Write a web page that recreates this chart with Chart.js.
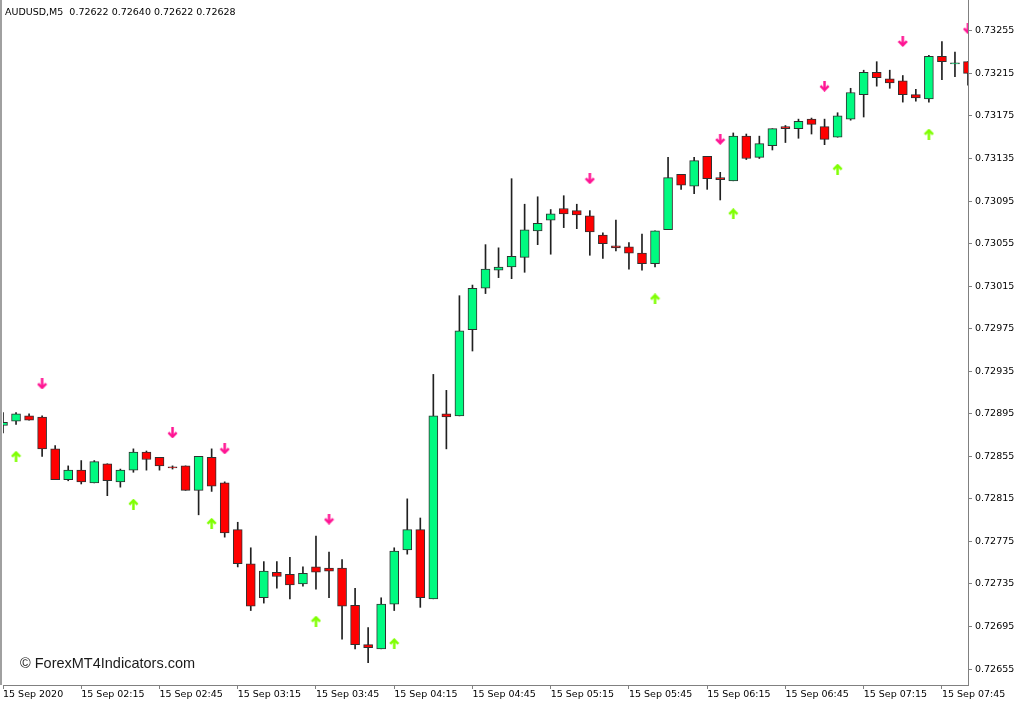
<!DOCTYPE html>
<html><head><meta charset="utf-8">
<script src="https://cdn.jsdelivr.net/npm/chart.js@4.4.1/dist/chart.umd.min.js"></script>
<style>
html,body{margin:0;padding:0;background:#fff;}
#wrap{position:relative;width:1024px;height:705px;overflow:hidden;background:#fff;}
canvas{position:absolute;left:0;top:0;}
#hdr{position:absolute;left:5px;top:7px;font:9.5px/9.5px "DejaVu Sans",sans-serif;color:#000;white-space:pre;}
#copy{position:absolute;left:20px;top:656px;font:14.5px/14.5px "Liberation Sans",Arial,sans-serif;color:#1a1a1a;white-space:pre;}
</style></head><body>
<div id="wrap"><canvas id="c" width="1024" height="705"></canvas>
<div id="hdr">AUDUSD,M5  0.72622 0.72640 0.72622 0.72628</div>
<div id="copy">© ForexMT4Indicators.com</div></div>
<script>
const categories = ["01:45","01:50","01:55",
 "02:00","02:05","02:10","02:15","02:20","02:25","02:30","02:35","02:40","02:45","02:50","02:55",
 "03:00","03:05","03:10","03:15","03:20","03:25","03:30","03:35","03:40","03:45","03:50","03:55",
 "04:00","04:05","04:10","04:15","04:20","04:25","04:30","04:35","04:40","04:45","04:50","04:55",
 "05:00","05:05","05:10","05:15","05:20","05:25","05:30","05:35","05:40","05:45","05:50","05:55",
 "06:00","06:05","06:10","06:15","06:20","06:25","06:30","06:35","06:40","06:45","06:50","06:55",
 "07:00","07:05","07:10","07:15","07:20","07:25","07:30","07:35","07:40","07:45","07:50","07:55"];

const tickTimes = ["01:45","02:15","02:45","03:15","03:45","04:15","04:45","05:15","05:45","06:15","06:45","07:15","07:45"];
const tickLabels = ["15 Sep 2020","15 Sep 02:15","15 Sep 02:45","15 Sep 03:15","15 Sep 03:45","15 Sep 04:15","15 Sep 04:45","15 Sep 05:15","15 Sep 05:45","15 Sep 06:15","15 Sep 06:45","15 Sep 07:15","15 Sep 07:45"];
const priceTicks = [0.72655,0.72695,0.72735,0.72775,0.72815,0.72855,0.72895,0.72935,0.72975,0.73015,0.73055,0.73095,0.73135,0.73175,0.73215,0.73255];

const openP = [0.72884,0.72888,0.72893,0.72892,0.72862,0.72833,0.72842,0.72830,0.72848,0.72831,
 0.72842,0.72859,0.72854,0.72845,0.72846,0.72823,0.72854,0.72830,0.72786,0.72754,
 0.72722,0.72746,0.72744,0.72735,0.72751,0.72750,0.72750,0.72715,0.72678,0.72674,
 0.72716,0.72767,0.72786,0.72721,0.72895,0.72893,0.72974,0.73013,0.73030,0.73033,
 0.73042,0.73067,0.73077,0.73088,0.73086,0.73081,0.73063,0.73053,0.73052,0.73046,
 0.73036,0.73068,0.73120,0.73109,0.73137,0.73117,0.73114,0.73156,0.73136,0.73147,
 0.73165,0.73163,0.73172,0.73165,0.73155,0.73172,0.73195,0.73216,0.73210,0.73208,
 0.73195,0.73191,0.73231,0.73224,0.73226];
const highP = [0.72896,0.72896,0.72895,0.72893,0.72865,0.72846,0.72851,0.72851,0.72848,0.72843,
 0.72862,0.72860,0.72854,0.72846,0.72846,0.72855,0.72862,0.72831,0.72793,0.72769,
 0.72756,0.72756,0.72760,0.72751,0.72780,0.72765,0.72758,0.72731,0.72694,0.72722,
 0.72769,0.72815,0.72797,0.72932,0.72917,0.73006,0.73016,0.73054,0.73051,0.73116,
 0.73092,0.73099,0.73087,0.73100,0.73092,0.73086,0.73065,0.73077,0.73056,0.73064,
 0.73067,0.73136,0.73120,0.73136,0.73137,0.73122,0.73159,0.73158,0.73156,0.73163,
 0.73166,0.73172,0.73173,0.73172,0.73178,0.73201,0.73218,0.73226,0.73218,0.73213,
 0.73200,0.73232,0.73245,0.73235,0.73226];
const lowP = [0.72877,0.72885,0.72889,0.72855,0.72833,0.72832,0.72829,0.72830,0.72818,0.72826,
 0.72840,0.72842,0.72842,0.72843,0.72823,0.72800,0.72822,0.72779,0.72751,0.72710,
 0.72717,0.72731,0.72721,0.72733,0.72730,0.72722,0.72683,0.72674,0.72661,0.72674,
 0.72710,0.72763,0.72713,0.72721,0.72862,0.72893,0.72954,0.73008,0.73023,0.73022,
 0.73028,0.73054,0.73045,0.73070,0.73069,0.73044,0.73041,0.73048,0.73031,0.73030,
 0.73033,0.73068,0.73106,0.73102,0.73106,0.73096,0.73114,0.73134,0.73135,0.73143,
 0.73150,0.73154,0.73158,0.73148,0.73155,0.73171,0.73174,0.73203,0.73201,0.73188,
 0.73189,0.73188,0.73209,0.73212,0.73204];
const closeP = [0.72887,0.72895,0.72889,0.72862,0.72833,0.72842,0.72831,0.72850,0.72832,0.72842,
 0.72859,0.72852,0.72846,0.72844,0.72823,0.72855,0.72827,0.72783,0.72754,0.72714,
 0.72747,0.72742,0.72734,0.72745,0.72746,0.72747,0.72714,0.72678,0.72675,0.72716,
 0.72766,0.72786,0.72722,0.72893,0.72892,0.72973,0.73013,0.73031,0.73033,0.73043,
 0.73068,0.73074,0.73083,0.73083,0.73082,0.73066,0.73055,0.73051,0.73046,0.73036,
 0.73067,0.73117,0.73110,0.73133,0.73116,0.73115,0.73156,0.73135,0.73149,0.73163,
 0.73163,0.73170,0.73167,0.73153,0.73175,0.73197,0.73216,0.73211,0.73206,0.73195,
 0.73192,0.73231,0.73226,0.73225,0.73215];

const downArrowBars = [3,13,17,25,45,55,63,69,74];
const downArrowPrice = [0.72923,0.72877,0.72862,0.72796,0.73116,0.73153,0.73203,0.73245,0.73257];
const upArrowBars = [1,10,16,24,30,50,56,64,71];
const upArrowPrice = [0.72855,0.72810,0.72792,0.72700,0.72679,0.73003,0.73083,0.73125,0.73158];

function arrowImg(color, down){
  const c = document.createElement('canvas'); c.width = 11; c.height = 11;
  const g = c.getContext('2d');
  g.strokeStyle = color; g.lineWidth = 2.5; g.lineJoin = 'miter';
  if (!down){ g.translate(0,11); g.scale(1,-1); }
  g.beginPath(); g.moveTo(5.5,0); g.lineTo(5.5,9.5); g.stroke();
  g.beginPath(); g.moveTo(1.4,5.2); g.lineTo(5.5,9.3); g.lineTo(9.6,5.2); g.stroke();
  return c;
}
const downImg = arrowImg('#FF1493', true);
const upImg = arrowImg('#7FFF00', false);

const bodyColors = openP.map((o,i) => closeP[i] >= o ? '#00FA80' : '#FF0000');
const axisFont = {family:'DejaVu Sans', size:9.5};

const frame = {
  id:'frame',
  beforeDatasetsDraw(chart){
    const {ctx, chartArea:a} = chart;
    ctx.save(); ctx.fillStyle = '#a0a0a0';
    ctx.fillRect(0, a.top, 2, a.bottom - a.top);
    ctx.restore();
  }
};

new Chart(document.getElementById('c'), {
  type:'bar',
  data:{
    labels: categories,
    datasets:[
      {type:'bar', label:'wick', data: categories.map((t,i)=>[lowP[i], highP[i]]),
       backgroundColor:'#202020', borderWidth:0, barThickness:1, grouped:false, order:3, clip:0},
      {type:'bar', label:'body', data: categories.map((t,i)=>[openP[i], closeP[i]]),
       backgroundColor: bodyColors, borderColor:'#303030', borderWidth:1, borderSkipped:false,
       barThickness:9, grouped:false, order:2, clip:0},
      {type:'scatter', label:'down', data: downArrowBars.map((k,j)=>({x:categories[k], y:downArrowPrice[j]})),
       pointStyle: downImg, order:1, clip:0},
      {type:'scatter', label:'up', data: upArrowBars.map((k,j)=>({x:categories[k], y:upArrowPrice[j]})),
       pointStyle: upImg, order:1, clip:0}
    ]
  },
  options:{
    responsive:false, animation:false, devicePixelRatio:1, events:[],
    layout:{autoPadding:false, padding:{left:3, right:0, top:0, bottom:0}},
    plugins:{legend:{display:false}, tooltip:{enabled:false}},
    scales:{
      x:{
        type:'category', offset:false,
        grid:{offset:false, drawOnChartArea:false, drawTicks:true, tickLength:4,
          color: ctx => (tickTimes.indexOf(categories[ctx.index]) >= 0 ? '#808080' : 'rgba(0,0,0,0)')},
        border:{color:'#808080', width:1},
        ticks:{autoSkip:false, maxRotation:0, minRotation:0, align:'start', padding:0, color:'#000', font:axisFont,
          callback:(v,i)=>{ const k = tickTimes.indexOf(categories[i]); return k >= 0 ? tickLabels[k] : ''; }},
        afterFit: s => { s.height = 20; s.paddingLeft = 0; s.paddingRight = 0; }
      },
      y:{
        type:'linear', position:'right', min:0.72640, max:0.73284,
        afterBuildTicks: s => { s.ticks = priceTicks.map(v => ({value:v})); },
        grid:{drawOnChartArea:false, drawTicks:true, tickLength:4, color:'#808080'},
        border:{color:'#808080', width:1},
        ticks:{padding:3, color:'#000', font:axisFont, callback: v => Number(v).toFixed(5)},
        afterFit: s => { s.width = 56; s.paddingTop = 0; s.paddingBottom = 0; }
      }
    }
  },
  plugins:[frame]
});
</script>
</body></html>
